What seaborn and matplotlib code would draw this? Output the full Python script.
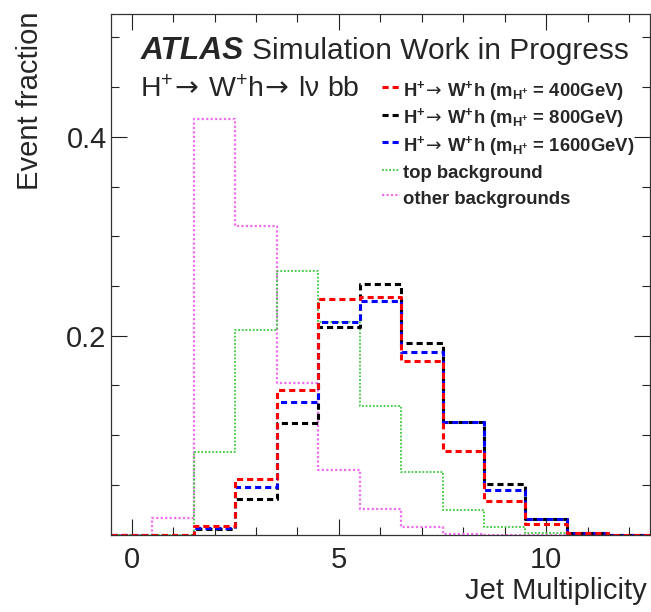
import numpy as np
import pandas as pd
import matplotlib
matplotlib.use("Agg")
import matplotlib.pyplot as plt
from matplotlib.ticker import MultipleLocator, FixedLocator
import seaborn as sns

# Jet multiplicity bins (bin centres 0..12, unit width)
jet_bins = list(range(13))

# Normalised event fractions per jet multiplicity
sig_400 = [0.0, 0.0, 0.0084, 0.056, 0.1457, 0.2369, 0.2385, 0.1749, 0.0842, 0.0342, 0.0103, 0.0015, 0.0]
sig_800 = [0.0, 0.0, 0.006, 0.0359, 0.1122, 0.2087, 0.252, 0.1927, 0.1132, 0.0512, 0.0154, 0.0015, 0.0]
sig_1600 = [0.0, 0.0, 0.007, 0.0479, 0.133, 0.2134, 0.2345, 0.1832, 0.113, 0.0444, 0.0154, 0.0014, 0.0]
top_bkg = [0.0, 0.0, 0.083, 0.206, 0.2647, 0.2134, 0.129, 0.0625, 0.0246, 0.0075, 0.002, 0.0, 0.0]
other_bkg = [0.0, 0.0168, 0.418, 0.3106, 0.152, 0.0653, 0.0258, 0.008, 0.001, 0.0, 0.0, 0.0, 0.0]

ARROW = r"$\!\mathrm{\rightarrow}\,$"
labels = {
    "sig_400": "H$^{+}$" + ARROW + "W$^{+}$h (m$_{\\mathregular{H^{+}}}$ = 400GeV)",
    "sig_800": "H$^{+}$" + ARROW + "W$^{+}$h (m$_{\\mathregular{H^{+}}}$ = 800GeV)",
    "sig_1600": "H$^{+}$" + ARROW + "W$^{+}$h (m$_{\\mathregular{H^{+}}}$ = 1600GeV)",
    "top_bkg": "top background",
    "other_bkg": "other backgrounds",
}
process_label = "H$^{+}$" + ARROW + "W$^{+}$h" + ARROW + "lν bb"

sns.set_theme(style="white")
plt.rcParams["font.family"] = ["Liberation Sans", "DejaVu Sans"]
plt.rcParams["mathtext.fontset"] = "dejavusans"
plt.rcParams["mathtext.default"] = "regular"

fig = plt.figure(figsize=(6.51, 6.12), dpi=100)
ax = fig.add_axes([110.9 / 651, 1 - 534.5 / 612, (649.8 - 110.9) / 651, (534.5 - 14) / 612])

edges = [b - 0.5 for b in jet_bins] + [jet_bins[-1] + 0.5]
df = pd.DataFrame({"njet": jet_bins, "sig_400": sig_400, "sig_800": sig_800,
                   "sig_1600": sig_1600, "top_bkg": top_bkg, "other_bkg": other_bkg})

dash = (0, (2.0, 1.3))
dot = (0, (1.0, 1.0))
styles = [
    ("other_bkg", "#f06ef0", dot, 1.6),
    ("top_bkg", "#3cc83c", dot, 1.3),
    ("sig_800", "black", dash, 2.2),
    ("sig_1600", "#0000ff", dash, 2.2),
    ("sig_400", "#ff0000", dash, 2.2),
]
handles = {}
for key, color, ls, lw in styles:
    before = len(ax.lines)
    sns.histplot(data=df, x="njet", weights=key, bins=edges, element="step", fill=False,
                 color=color, linestyle=ls, linewidth=lw, ax=ax)
    handles[key] = ax.lines[before]

ax.set_xlim(-0.5, 12.5)
ax.set_ylim(0, 0.5236)

ax.xaxis.set_major_locator(FixedLocator([0, 5, 10]))
ax.xaxis.set_minor_locator(MultipleLocator(1))
ax.yaxis.set_major_locator(FixedLocator([0.2, 0.4]))
ax.yaxis.set_minor_locator(MultipleLocator(0.05))
ax.set_yticklabels(["0.2", "0.4"])

ax.tick_params(which="both", direction="in", top=True, right=True, bottom=True, left=True,
               width=0.8, color="#222222")
ax.tick_params(which="major", length=11.5)
ax.tick_params(which="minor", length=5.8)
ax.tick_params(axis="y", which="major", labelsize=21, pad=3)
ax.tick_params(axis="x", which="major", labelsize=21, pad=8)
for sp in ax.spines.values():
    sp.set_color("#333333")
    sp.set_linewidth(0.9)

ax.set_xlabel("Jet Multiplicity", fontsize=21, loc="right")
ax.xaxis.set_label_coords(0.995, -0.082)
ax.xaxis.label.set_va("top")
ax.set_ylabel("Event fraction", fontsize=21, loc="top")
ax.yaxis.set_label_coords(-0.124, 1.004)

ax.text(0.0559, 0.9135, "ATLAS", transform=ax.transAxes, fontsize=22.8,
        fontweight="bold", fontstyle="italic", va="baseline")
ax.text(0.2618, 0.9135, "Simulation Work in Progress", transform=ax.transAxes,
        fontsize=21.5, va="baseline")
ax.text(0.054, 0.841, process_label, transform=ax.transAxes, fontsize=20.5, va="baseline")

order = ["sig_400", "sig_800", "sig_1600", "top_bkg", "other_bkg"]
leg = ax.legend([handles[k] for k in order], [labels[k] for k in order],
                loc="upper left", bbox_to_anchor=(0.503, 0.876), frameon=False,
                prop={"weight": "bold", "size": 13.3}, handlelength=0.95,
                handleheight=1.45, handletextpad=0.2, labelspacing=0.19,
                borderpad=0, borderaxespad=0)

fig.savefig("out.png", dpi=100)
